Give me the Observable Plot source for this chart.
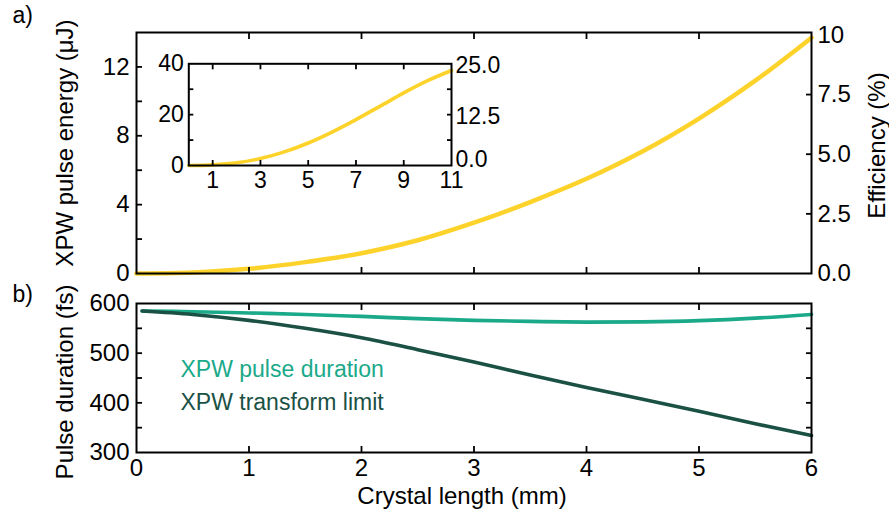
<!DOCTYPE html>
<html>
<head>
<meta charset="utf-8">
<script src="https://cdn.jsdelivr.net/npm/d3@7"></script>
<script src="https://cdn.jsdelivr.net/npm/@observablehq/plot@0.6"></script>
<style>
  body { margin: 0; background: #fff; }
  #wrap { position: relative; width: 889px; height: 514px; background: #fff; overflow: hidden; }
  #wrap svg { position: absolute; overflow: visible; }
</style>
</head>
<body>
<div id="wrap"></div>
<script>
// ---------- data ----------
const lengthMm = [0, 0.5, 1, 1.5, 2, 2.5, 3, 3.5, 4, 4.5, 5, 5.5, 6];
const energyUJ = [0, 0.06, 0.27, 0.66, 1.18, 1.93, 2.95, 4.15, 5.5, 7.1, 9.0, 11.2, 13.7];

const insetLengthMm = [0, 1, 2, 3, 4, 5, 6, 7, 8, 9, 10, 11];
const insetEnergyUJ = [0, 0.25, 1.05, 2.75, 5.35, 8.85, 13.15, 18.05, 23.25, 28.55, 33.35, 37.35];

const durLengthMm = [0.05, 0.5, 1, 1.5, 2, 2.5, 3, 3.5, 4, 4.5, 5, 5.5, 6];
const pulseDurationFs = [585, 583.5, 581, 578, 574, 569.5, 566, 564, 562.5, 563, 565.5, 570.5, 578];
const transformLimitFs = [585, 578, 566, 550, 531, 507, 482, 456, 431, 407, 383, 358, 334];

// ticks
const xTicks = [1, 2, 3, 4, 5];
const xLabels = [0, 1, 2, 3, 4, 5, 6];
const energyTicks = [2, 4, 6, 8, 10, 12];
const energyLabels = [0, 4, 8, 12];
const efficiencyTicks = [2.5, 5, 7.5];
const efficiencyLabels = [0, 2.5, 5, 7.5, 10];
const durTicks = [350, 400, 450, 500, 550];
const durLabels = [300, 400, 500, 600];
const insetXTicks = [1, 3, 5, 7, 9];
const insetXLabels = [1, 3, 5, 7, 9, 11];
const insetYTicks = [10, 20, 30];
const insetYLabels = [0, 20, 40];
const insetEffLabels = [12.5, 25];
const insetEffZero = [0];

// texts
const titleEnergy = "XPW pulse energy (μJ)";
const titleEfficiency = "Efficiency (%)";
const titleDuration = "Pulse duration (fs)";
const titleLength = "Crystal length (mm)";
const legendPulse = "XPW pulse duration";
const legendTL = "XPW transform limit";
const panelA = "a)";
const panelB = "b)";

// efficiency (%) <-> energy (µJ) conversion factors
const K = 1.386;      // main panel: energy per % efficiency
const KI = 40 / 25;   // inset

// ---------- style ----------
const FONT = "'Liberation Sans', Arial, sans-serif";
const YELLOW = "#fdd32b";
const TEAL = "#1aa989";
const DARK = "#1b5144";
const TS = -6; // inward tick

const energyPts = lengthMm.map((x, i) => ({x, y: energyUJ[i]}));
const insetPts = insetLengthMm.map((x, i) => ({x, y: insetEnergyUJ[i]}));
const pulsePts = durLengthMm.map((x, i) => ({x, y: pulseDurationFs[i]}));
const tlPts = durLengthMm.map((x, i) => ({x, y: transformLimitFs[i]}));

const wrap = document.getElementById("wrap");
const place = (svg, left, top) => { svg.style.left = left + "px"; svg.style.top = top + "px"; wrap.appendChild(svg); };
const fmtEff = (d) => { const v = Math.round(d / K * 100) / 100; return v === 10 ? "10" : v.toFixed(1); };

// ---------- panel a ----------
const topPlot = Plot.plot({
  width: 889, height: 300,
  marginLeft: 136, marginRight: 78, marginTop: 32, marginBottom: 27,
  style: {fontFamily: FONT, fontSize: "24px", background: "transparent", color: "#000", overflow: "visible"},
  x: {domain: [0, 6], axis: null},
  y: {domain: [0, 14], axis: null},
  marks: [
    Plot.line(energyPts, {x: "x", y: "y", stroke: YELLOW, strokeWidth: 4.5, curve: "catmull-rom"}),
    Plot.frame({stroke: "#000", strokeWidth: 2}),
    Plot.axisY(energyTicks, {anchor: "left", tickSize: TS, tickFormat: () => "", strokeWidth: 1.8, label: null}),
    Plot.axisY(energyLabels, {anchor: "left", tickSize: 0, tickPadding: 7, label: null}),
    Plot.axisY(efficiencyTicks.map(e => e * K), {anchor: "right", tickSize: TS, tickFormat: () => "", strokeWidth: 1.8, label: null}),
    Plot.axisY(efficiencyLabels.map(e => e * K), {anchor: "right", tickSize: 0, tickPadding: 6, tickFormat: fmtEff, label: null}),
    Plot.axisX(xTicks, {anchor: "bottom", tickSize: TS, tickFormat: () => "", strokeWidth: 1.8, label: null}),
    Plot.axisX(xTicks, {anchor: "top", tickSize: TS, tickFormat: () => "", strokeWidth: 1.8, label: null}),
    Plot.text([titleEnergy], {frameAnchor: "left", rotate: -90, dx: -71, dy: -10, fontSize: 24, textAnchor: "middle", lineAnchor: "middle"}),
    Plot.text([titleEfficiency], {frameAnchor: "right", rotate: -90, dx: 66, dy: -7.5, fontSize: 24, textAnchor: "middle", lineAnchor: "middle"}),
    Plot.text([panelA], {frameAnchor: "top-left", dx: -124, dy: -9.5, fontSize: 23, textAnchor: "start", lineAnchor: "bottom"})
  ]
});
place(topPlot, 0, 0);

// ---------- panel b ----------
const botPlot = Plot.plot({
  width: 889, height: 234,
  marginLeft: 136, marginRight: 78, marginTop: 23, marginBottom: 62,
  style: {fontFamily: FONT, fontSize: "24px", background: "transparent", color: "#000", overflow: "visible"},
  x: {domain: [0, 6], axis: null},
  y: {domain: [300, 600], axis: null},
  marks: [
    Plot.line(pulsePts, {x: "x", y: "y", stroke: TEAL, strokeWidth: 3.6, curve: "catmull-rom"}),
    Plot.line(tlPts, {x: "x", y: "y", stroke: DARK, strokeWidth: 3.6, curve: "catmull-rom"}),
    Plot.frame({stroke: "#000", strokeWidth: 2}),
    Plot.axisY(durTicks, {anchor: "left", tickSize: TS, tickFormat: () => "", strokeWidth: 1.8, label: null}),
    Plot.axisY(durLabels, {anchor: "left", tickSize: 0, tickPadding: 7, label: null}),
    Plot.axisY(durTicks, {anchor: "right", tickSize: TS, tickFormat: () => "", strokeWidth: 1.8, label: null}),
    Plot.axisX(xTicks, {anchor: "bottom", tickSize: TS, tickFormat: () => "", strokeWidth: 1.8, label: null}),
    Plot.axisX(xTicks, {anchor: "top", tickSize: TS, tickFormat: () => "", strokeWidth: 1.8, label: null}),
    Plot.axisX(xLabels, {anchor: "bottom", tickSize: 0, tickPadding: 6, label: null}),
    Plot.text([titleDuration], {frameAnchor: "left", rotate: -90, dx: -71, dy: 4, fontSize: 24, textAnchor: "middle", lineAnchor: "middle"}),
    Plot.text([titleLength], {frameAnchor: "bottom", dx: -12, dy: 51, fontSize: 24, textAnchor: "middle", lineAnchor: "bottom"}),
    Plot.text([legendPulse], {frameAnchor: "top-left", dx: 44, dy: 73.5, fontSize: 23, fill: TEAL, textAnchor: "start", lineAnchor: "bottom"}),
    Plot.text([legendTL], {frameAnchor: "top-left", dx: 44, dy: 106, fontSize: 23, fill: DARK, textAnchor: "start", lineAnchor: "bottom"}),
    Plot.text([panelB], {frameAnchor: "top-left", dx: -124, dy: -1.5, fontSize: 23, textAnchor: "start", lineAnchor: "bottom"})
  ]
});
place(botPlot, 0, 280);

// ---------- inset ----------
const insetPlot = Plot.plot({
  width: 360, height: 160,
  marginLeft: 48.3, marginRight: 49, marginTop: 18.3, marginBottom: 40,
  style: {fontFamily: FONT, fontSize: "23px", background: "transparent", color: "#000", overflow: "visible"},
  x: {domain: [0, 11], axis: null},
  y: {domain: [0, 40], axis: null},
  marks: [
    Plot.frame({fill: "white", stroke: "none"}),
    Plot.line(insetPts, {x: "x", y: "y", stroke: YELLOW, strokeWidth: 3.6, curve: "catmull-rom"}),
    Plot.frame({stroke: "#000", strokeWidth: 2}),
    Plot.axisY(insetYTicks, {anchor: "left", tickSize: -5, tickFormat: () => "", strokeWidth: 1.8, label: null}),
    Plot.axisY(insetYLabels, {anchor: "left", tickSize: 0, tickPadding: 5, label: null}),
    Plot.axisY(insetYTicks, {anchor: "right", tickSize: -5, tickFormat: () => "", strokeWidth: 1.8, label: null}),
    Plot.axisY(insetEffLabels.map(e => e * KI), {anchor: "right", tickSize: 0, tickPadding: 4, dy: 2, tickFormat: d => (d / KI).toFixed(1), label: null}),
    Plot.axisY(insetEffZero.map(e => e * KI), {anchor: "right", tickSize: 0, tickPadding: 4, dy: -6, tickFormat: d => (d / KI).toFixed(1), label: null}),
    Plot.axisX(insetXTicks, {anchor: "bottom", tickSize: -5, tickFormat: () => "", strokeWidth: 1.8, label: null}),
    Plot.axisX(insetXTicks, {anchor: "top", tickSize: -5, tickFormat: () => "", strokeWidth: 1.8, label: null}),
    Plot.axisX(insetXLabels, {anchor: "bottom", tickSize: 0, tickPadding: 6, label: null})
  ]
});
place(insetPlot, 140, 45);
</script>
</body>
</html>
